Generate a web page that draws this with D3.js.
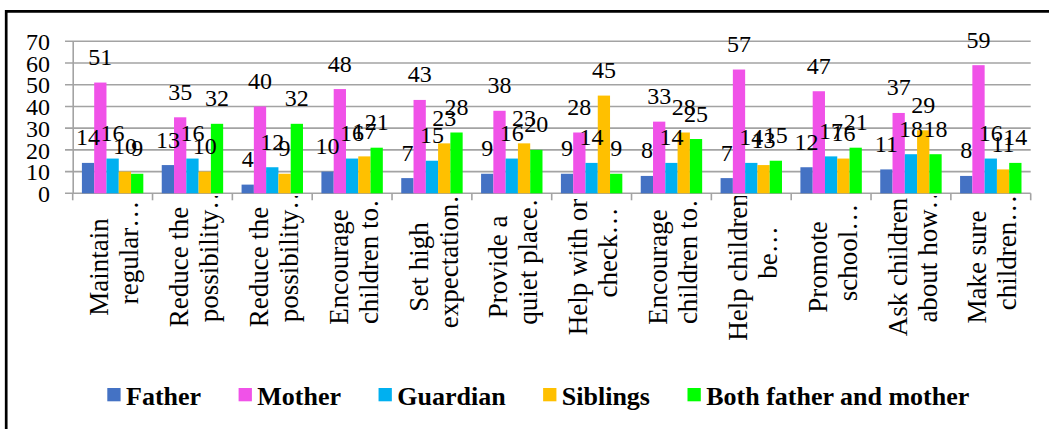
<!DOCTYPE html>
<html>
<head>
<meta charset="utf-8">
<script src="https://cdn.jsdelivr.net/npm/d3@7"></script>
<style>
  body { margin: 0; background: #fff; }
  svg { display: block; font-family: "Liberation Serif", "Times New Roman", serif; }
</style>
</head>
<body>
<svg width="1049" height="429"></svg>
<script>
// chart data
var categories = [
    ["Maintain", "regular\u2026"],
    ["Reduce the", "possibility\u2026"],
    ["Reduce the", "possibility\u2026"],
    ["Encourage", "children to\u2026"],
    ["Set high", "expectation\u2026"],
    ["Provide a", "quiet place\u2026"],
    ["Help with or", "check\u2026"],
    ["Encourage", "children to\u2026"],
    ["Help children", "be\u2026"],
    ["Promote", "school\u2026"],
    ["Ask children", "about how\u2026"],
    ["Make sure", "children\u2026"]
];
var seriesNames = ["Father", "Mother", "Guardian", "Siblings", "Both father and mother"];
var father   = [14, 13, 4, 10, 7, 9, 9, 8, 7, 12, 11, 8];
var mother   = [51, 35, 40, 48, 43, 38, 28, 33, 57, 47, 37, 59];
var guardian = [16, 16, 12, 16, 15, 16, 14, 14, 14, 17, 18, 16];
var siblings = [10, 10, 9, 17, 23, 23, 45, 28, 13, 16, 29, 11];
var both     = [9, 32, 32, 21, 28, 20, 9, 25, 15, 21, 18, 14];
var yTicks = [0, 10, 20, 30, 40, 50, 60, 70];

(() => {
    var width = 1049;
    var height = 429;
    var plot = {left: 72.7, right: 1030.7, top: 41.3, bottom: 193.3};
    var colors = ["#4472C4", "#F052E8", "#00B0F0", "#FFC000", "#00FF00"];
    var series = [father, mother, guardian, siblings, both];

    var svg = d3.select('svg');

    // scales
    var x0 = d3.scaleBand()
        .domain(d3.range(categories.length))
        .range([plot.left, plot.right]);
    var x1 = d3.scaleBand()
        .domain(d3.range(seriesNames.length))
        .range([0, x0.bandwidth()])
        .paddingOuter(0.75);
    var yScale = d3.scaleLinear()
        .domain([0, 70])
        .range([plot.bottom, plot.top]);
    var color = d3.scaleOrdinal().domain(d3.range(5)).range(colors);

    // gridlines
    svg.append('g')
        .selectAll('line')
        .data(yTicks)
        .enter().append('line')
        .attr('x1', plot.left - 7.7)
        .attr('x2', plot.right)
        .attr('y1', d => yScale(d))
        .attr('y2', d => yScale(d))
        .attr('stroke', '#a3a3a3')
        .attr('stroke-width', 1.6);

    // y axis
    var yAxis = d3.axisLeft(yScale)
        .tickValues(yTicks)
        .tickSize(0)
        .tickPadding(22.7);
    var yG = svg.append('g')
        .attr('transform', 'translate(' + [plot.left, 0] + ')')
        .call(yAxis);
    yG.select('.domain').attr('stroke', '#a3a3a3').attr('stroke-width', 1.6);
    yG.selectAll('text')
        .attr('font-family', '"Liberation Serif", "Times New Roman", serif')
        .attr('font-size', 24)
        .attr('fill', '#000')
        .attr('dy', '0.34em');

    // category ticks
    svg.append('g')
        .selectAll('line')
        .data(d3.range(categories.length + 1))
        .enter().append('line')
        .attr('x1', d => plot.left + d * x0.step())
        .attr('x2', d => plot.left + d * x0.step())
        .attr('y1', plot.bottom)
        .attr('y2', plot.bottom + 7)
        .attr('stroke', '#a3a3a3')
        .attr('stroke-width', 1.6);

    // bars
    var groups = svg.append('g')
        .selectAll('g')
        .data(categories)
        .enter().append('g')
        .attr('transform', (d, i) => 'translate(' + [x0(i), 0] + ')');

    groups.selectAll('rect')
        .data((d, i) => series.map((s, j) => ({s: j, v: s[i]})))
        .enter().append('rect')
        .attr('x', d => x1(d.s))
        .attr('width', x1.bandwidth())
        .attr('y', d => yScale(d.v))
        .attr('height', d => yScale(0) - yScale(d.v))
        .attr('fill', d => color(d.s));

    // data labels
    groups.selectAll('text')
        .data((d, i) => series.map((s, j) => ({s: j, v: s[i]})))
        .enter().append('text')
        .attr('x', d => x1(d.s) + x1.bandwidth() / 2)
        .attr('y', d => yScale(d.v) - 17.5)
        .attr('text-anchor', 'middle')
        .attr('font-size', 24)
        .text(d => d3.format('.0f')(d.v));

    // category labels, clipped like the original
    svg.append('clipPath')
        .attr('id', 'catclip')
        .append('rect')
        .attr('x', 0).attr('y', 196)
        .attr('width', width).attr('height', 170);

    var catG = svg.append('g')
        .attr('clip-path', 'url(#catclip)')
        .selectAll('g')
        .data(categories)
        .enter().append('g')
        .attr('transform', (d, i) => 'translate(' + [x0(i) + x0.bandwidth() / 2, 0] + ')');

    catG.append('text')
        .attr('transform', 'translate(-4.4,267) rotate(-90)')
        .attr('text-anchor', 'middle')
        .attr('font-size', 27)
        .text(d => d[0]);
    catG.append('text')
        .attr('transform', 'translate(25.6,252.5) rotate(-90)')
        .attr('text-anchor', 'middle')
        .attr('font-size', 27)
        .text(d => d[1]);

    // legend
    var legend = svg.append('g');
    var lx = 107.3;
    seriesNames.forEach(function (name, i) {
        legend.append('rect')
            .attr('x', lx)
            .attr('y', 388)
            .attr('width', 13.3)
            .attr('height', 13.3)
            .attr('fill', colors[i]);
        var t = legend.append('text')
            .attr('x', lx + 18.7)
            .attr('y', 404.6)
            .attr('font-size', 26)
            .attr('font-weight', 'bold')
            .text(name);
        lx = lx + 18.7 + t.node().getComputedTextLength() + 37.5;
    });

    // outer frame
    svg.append('path')
        .attr('d', 'M6.2,' + (height + 5) + 'V11.3H' + (width + 5))
        .attr('fill', 'none')
        .attr('stroke', '#000')
        .attr('stroke-width', 2.7);
})();
</script>
</body>
</html>
